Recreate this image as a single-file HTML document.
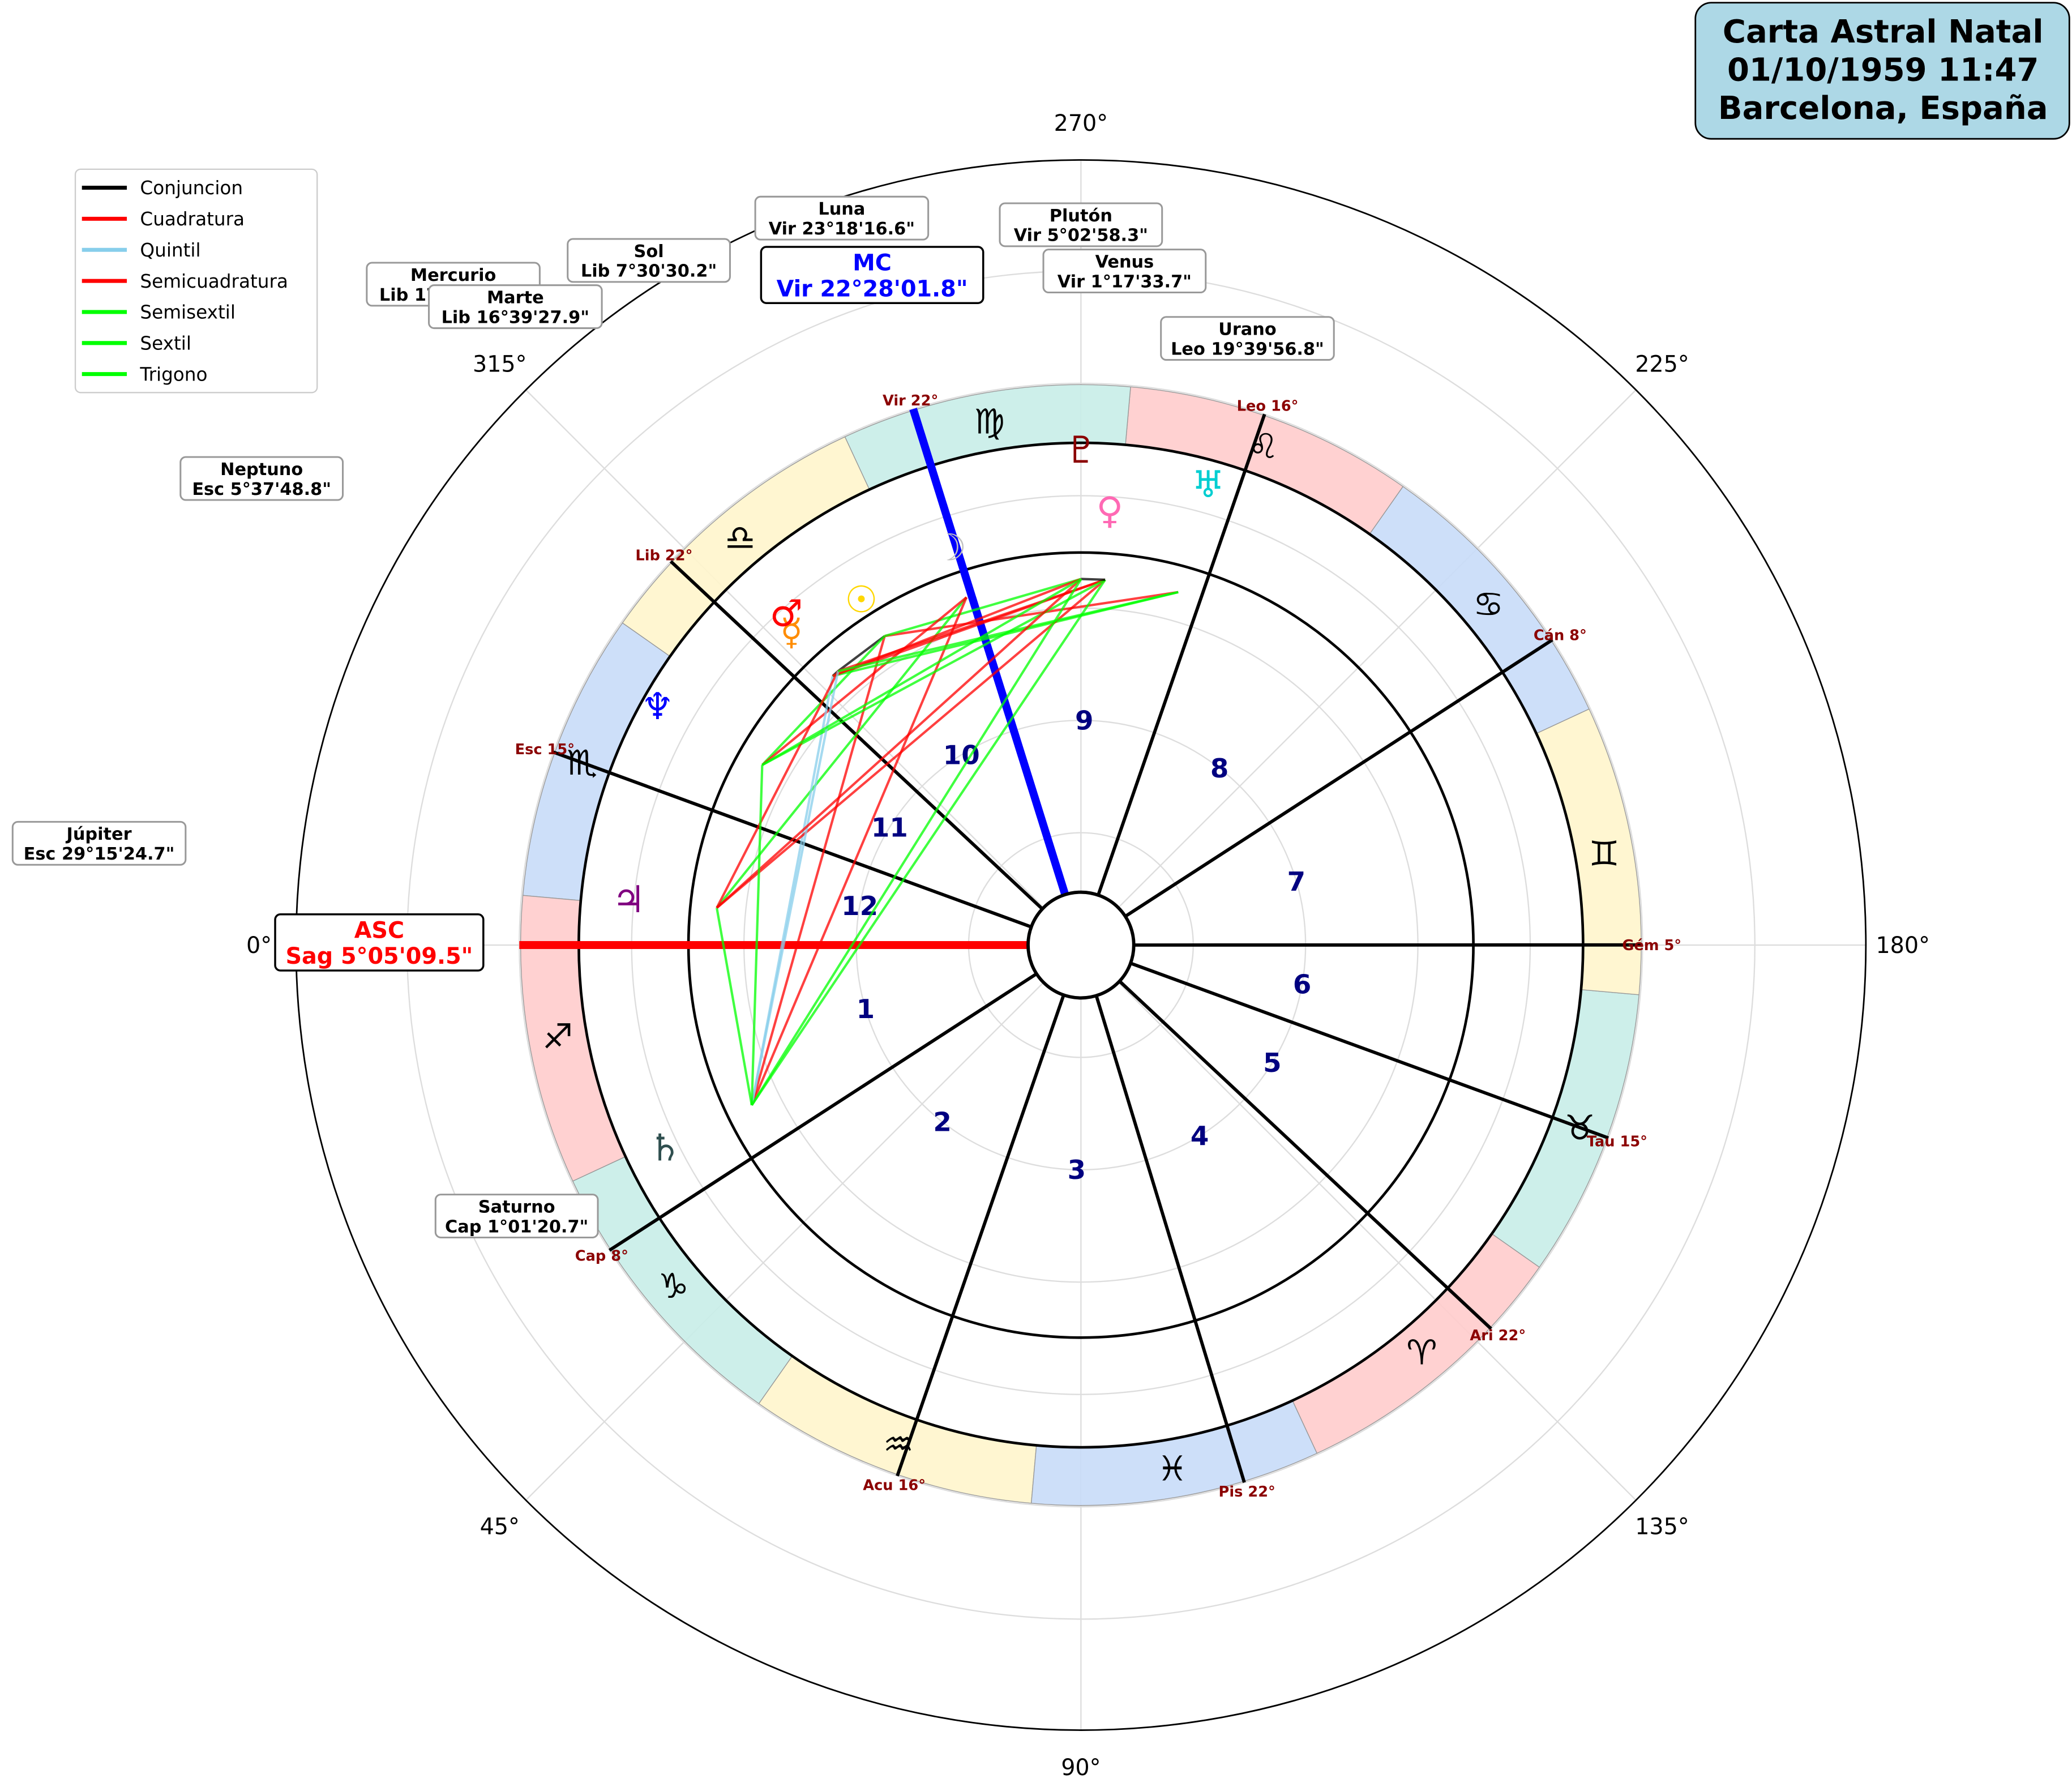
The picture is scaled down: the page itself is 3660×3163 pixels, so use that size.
<!DOCTYPE html>
<html><head><meta charset="utf-8"><style>
html,body{margin:0;padding:0;background:#fff}
svg{display:block}
text{font-family:"DejaVu Sans","Liberation Sans",sans-serif}
</style></head><body>
<svg id="chart" width="3660" height="3163" viewBox="0 0 1568 1355" xmlns="http://www.w3.org/2000/svg">
<g id="grid"></g>
<g id="ring"></g>
<g id="houses"></g>
<g id="aspects"></g>
<g id="planets"></g>
<g id="labels"></g>
<g>
<rect x="57" y="128" width="183" height="169" rx="4" fill="#fff" stroke="#ccc"/>
</g>
<g id="legend"></g>
<g>
<rect x="1283" y="2" width="283" height="103" rx="12" fill="#add8e6" stroke="#000" stroke-width="1.2"/>
<text x="1425" y="32" font-size="24" font-weight="bold" text-anchor="middle">Carta Astral Natal</text>
<text x="1425" y="61" font-size="24" font-weight="bold" text-anchor="middle">01/10/1959 11:47</text>
<text x="1425" y="90" font-size="24" font-weight="bold" text-anchor="middle">Barcelona, España</text>
</g>
</svg>
<script>
const planetNames=["Sol","Luna","Mercurio","Venus","Marte","Júpiter","Saturno","Urano","Neptuno","Plutón"];
const planetLon=[187.508,173.305,197.79,151.293,196.658,239.254,271.022,139.666,215.63,155.049];
const planetText=["Lib 7°30'30.2\"","Vir 23°18'16.6\"","Lib 17°47'54.4\"","Vir 1°17'33.7\"","Lib 16°39'27.9\"","Esc 29°15'24.7\"","Cap 1°01'20.7\"","Leo 19°39'56.8\"","Esc 5°37'48.8\"","Vir 5°02'58.3\""];
const planetGlyph=["☉","☽","☿","♀","♂","♃","♄","♅","♆","♇"];
const planetColor=["#FFD700","#C0C0C0","#FF8C00","#FF69B4","#FF0000","#800080","#2F4F4F","#00CED1","#0000FF","#8B0000"];
const planetR=[310,317,323,330,336,344,350,362,368,375];
const cuspLon=[245.086,278,316,352,22,45,65.1,98,136,172.468,202,225];
const cuspText=["","Cap 8°","Acu 16°","Pis 22°","Ari 22°","Tau 15°","Gém 5°","Cán 8°","Leo 16°","Vir 22°","Lib 22°","Esc 15°"];
const signGlyph=["♈","♉","♊","♋","♌","♍","♎","♏","♐","♑","♒","♓"];
const signColor=["#ffcccc","#c8ede8","#fff5cc","#c8dcf8"];
const aspectNames=["Conjuncion","Cuadratura","Quintil","Semicuadratura","Semisextil","Sextil","Trigono"];
const aspectAngle=[0,90,72,45,30,60,120];
const aspectOrb=[10,8,3,3,3,6,8];
const aspectColor=["#000","#ff0000","#87ceeb","#ff0000","#00ff00","#00ff00","#00ff00"];
const ascLon=245.086, mcLon=172.468;
const CX=818,CY=715,NS="http://www.w3.org/2000/svg";
function th(lon){return (lon-ascLon)*Math.PI/180;}
function px(lon,r){return CX-r*Math.cos(th(lon));}
function py(lon,r){return CY+r*Math.sin(th(lon));}
function ax(a,r){return CX-r*Math.cos(a*Math.PI/180);}
function ay(a,r){return CY+r*Math.sin(a*Math.PI/180);}
function el(g,tag,attrs,txt){const e=document.createElementNS(NS,tag);for(const k in attrs)e.setAttribute(k,attrs[k]);if(txt!==undefined)e.textContent=txt;document.getElementById(g).appendChild(e);return e;}
[85,170,255,340,425,510].forEach(r=>{const e=el("grid","circle",{cx:CX,cy:CY,r:r,fill:"none",stroke:"#ddd","stroke-width":1});

});
for(let a=0;a<360;a+=45){const e=el("grid","line",{x1:CX,y1:CY,x2:ax(a,594),y2:ay(a,594),stroke:"#ddd","stroke-width":1});


const t=el("grid","text",{x:ax(a,622),y:ay(a,622)+6,"font-size":17,"text-anchor":"middle"},a+"°");

}
{const e=el("grid","circle",{cx:CX,cy:CY,r:594,fill:"none",stroke:"#000","stroke-width":1.2});

}
for(let i=0;i<12;i++){const a0=i*30,a1=a0+30,r0=380,r1=424;
const d=`M${px(a0,r0)},${py(a0,r0)} L${px(a0,r1)},${py(a0,r1)} A${r1},${r1} 0 0 0 ${px(a1,r1)},${py(a1,r1)} L${px(a1,r0)},${py(a1,r0)} A${r0},${r0} 0 0 1 ${px(a0,r0)},${py(a0,r0)}Z`;
const s=el("ring","path",{d:d,fill:signColor[i%4],stroke:"#999","stroke-width":0.6,"fill-opacity":0.9});


const g=el("ring","text",{x:px(a0+15,402),y:py(a0+15,402)+9,"font-size":26,"text-anchor":"middle"},signGlyph[i]);

}
[297,380].forEach(r=>{const e=el("ring","circle",{cx:CX,cy:CY,r:r,fill:"none",stroke:"#000","stroke-width":2});

});
for(let i=0;i<12;i++){const L=cuspLon[i];
if(i!==0&&i!==9){const l=el("houses","line",{x1:px(L,40),y1:py(L,40),x2:px(L,425),y2:py(L,425),stroke:"#000","stroke-width":2.5});

}
if(cuspText[i]){const t=el("houses","text",{x:px(L,432),y:py(L,432)+4,"font-size":11,"font-weight":"bold",fill:"#8b0000","text-anchor":"middle"},cuspText[i]);

}
let nx=cuspLon[(i+1)%12];let d=(nx-L+360)%360;const m=L+d/2;
const n=el("houses","text",{x:px(m,170),y:py(m,170)+7,"font-size":20,"font-weight":"bold",fill:"#000080","text-anchor":"middle"},String(i+1));

}
{const a=el("houses","line",{x1:px(ascLon,40),y1:py(ascLon,40),x2:px(ascLon,425),y2:py(ascLon,425),stroke:"#ff0000","stroke-width":6});


const m=el("houses","line",{x1:px(mcLon,40),y1:py(mcLon,40),x2:px(mcLon,425),y2:py(mcLon,425),stroke:"#0000ff","stroke-width":6});


const c=el("houses","circle",{cx:CX,cy:CY,r:40,fill:"#fff",stroke:"#000","stroke-width":2.5});

}
for(let i=0;i<10;i++)for(let j=i+1;j<10;j++){let d=Math.abs(planetLon[i]-planetLon[j]);if(d>180)d=360-d;
for(let k=0;k<aspectAngle.length;k++){if(Math.abs(d-aspectAngle[k])<=aspectOrb[k]){
const l=el("aspects","line",{x1:px(planetLon[i],277),y1:py(planetLon[i],277),x2:px(planetLon[j],277),y2:py(planetLon[j],277),stroke:aspectColor[k],"stroke-width":1.8,"stroke-opacity":0.75});

break;}}}
for(let i=0;i<10;i++){const t=el("planets","text",{x:px(planetLon[i],planetR[i]),y:py(planetLon[i],planetR[i])+10,"font-size":28,"text-anchor":"middle",fill:planetColor[i]},planetGlyph[i]);

}
const labelPos=[[491,197],[637,165],[343,215],[851,205],[390,232],[75,638],[391,920],[944,256],[198,362],[818,170]];
function box(g,cx,cy,l1,l2,fs,col,w){const wd=Math.max(l1.length,l2.length)*fs*0.62+10,h=fs*2.5;
const r=el(g,"rect",{x:cx-wd/2,y:cy-h/2,width:wd,height:h,rx:4,fill:"#fff",stroke:w?"#000":"#999","stroke-width":w?1.5:1.3});


const a=el(g,"text",{x:cx,y:cy-fs*0.2,"font-size":fs,"font-weight":"bold","text-anchor":"middle",fill:col},l1);


const b=el(g,"text",{x:cx,y:cy+fs*0.95,"font-size":fs,"font-weight":"bold","text-anchor":"middle",fill:col},l2);

}
for(let i=0;i<10;i++)box("labels",labelPos[i][0],labelPos[i][1],planetNames[i],planetText[i],13,"#000",false);
box("labels",660,208,"MC","Vir 22°28'01.8\"",17,"#0000ff",true);
box("labels",287,713,"ASC","Sag 5°05'09.5\"",17,"#ff0000",true);
for(let k=0;k<aspectNames.length;k++){const y=142+k*23.5;
const l=el("legend","line",{x1:62,y1:y,x2:96,y2:y,stroke:aspectColor[k],"stroke-width":3});


const t=el("legend","text",{x:106,y:y+5,"font-size":14},aspectNames[k]);

}
</script>
</body></html>
